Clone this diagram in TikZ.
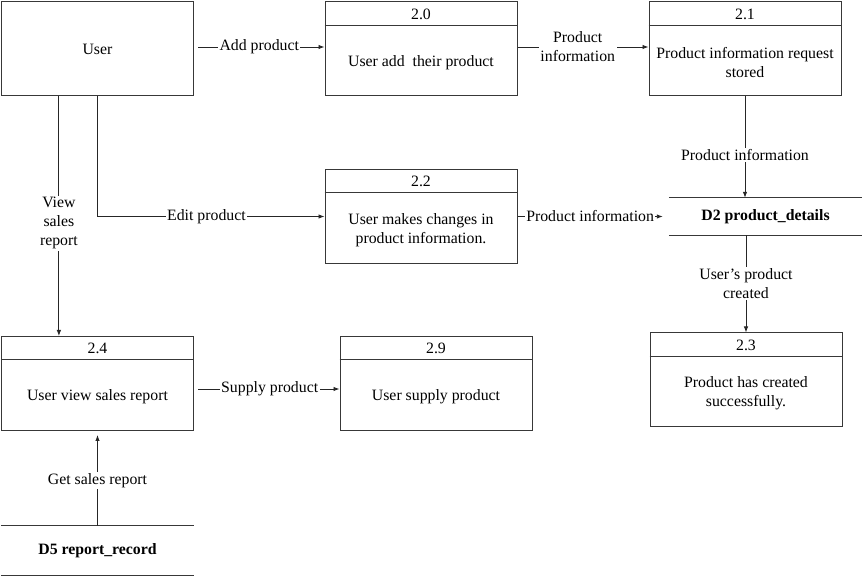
\documentclass[tikz,border=0pt]{standalone}
\usepackage{fontspec}
\setmainfont{Liberation Serif}
\usetikzlibrary{arrows.meta,calc}
\begin{document}
\begin{tikzpicture}[x=1pt,y=-1pt,
  font=\fontsize{15.8}{19}\selectfont,
  box/.style={draw=black!78, line width=1pt, minimum width=192pt, minimum height=94pt, inner sep=0pt},
  store/.style={minimum width=193pt, inner sep=0pt, font=\fontsize{15.8}{19}\selectfont\bfseries},
  sline/.style={draw=black!78, line width=1pt},
  flow/.style={draw=black!85, line width=0.9pt, -{Latex[length=6pt,width=4.5pt]}},
  lbl/.style={fill=white, inner sep=1.5pt, align=center},
  txt/.style={align=center, inner sep=0pt}]
\useasboundingbox (0,0) rectangle (863,577);

% external entity
\node[box] (u) at (97.5,49) {User};

% processes
\node[box] (p20) at (421,49) {};
\node[box] (p21) at (745,49) {};
\node[box] (p22) at (421,216.5) {};
\node[box] (p23) at (746,380) {};
\node[box] (p24) at (97.5,383.5) {};
\node[box] (p29) at (436,383.5) {};

\foreach \p/\num/\body in {p20/2.0/{User add\ \ their product},
                         p21/2.1/{Product information request\\stored},
                         p22/2.2/{User makes changes in\\product information.},
                         p23/2.3/{Product has created\\successfully.},
                         p24/2.4/{User view sales report},
                         p29/2.9/{User supply product}}{
  \draw[sline] ($(\p.north west)+(0,24)$) -- ($(\p.north east)+(0,24)$);
  \node[txt] at ($(\p.north)+(0,12.5)$) {\num};
  \node[txt] at ($(\p.center)+(0,13.5)$) {\body};
}

% data stores
\node[store, minimum height=37pt] (d2) at (765.5,216.5) {D2 product\_details};
\draw[sline] (d2.north west) -- (d2.north east);
\draw[sline] (d2.south west) -- (d2.south east);
\node[store, minimum height=49pt] (d5) at (97.5,550.5) {D5 report\_record};
\draw[sline] (d5.north west) -- (d5.north east);
\draw[sline] (d5.south west) -- (d5.south east);

% flows
\draw[flow, shorten <=4pt] ($(u.east)+(0,-2)$) -- node[lbl] {Add product} ($(p20.west)+(0,-2)$);
\draw[flow] ($(p20.east)+(0,-2)$) -- node[lbl, pos=0.46] {Product\\information} ($(p21.west)+(0,-2)$);
\draw[flow] (p21.south) -- node[lbl, pos=0.58] {Product information} (p21.south |- d2.north);
\draw[flow] (u.south) |- node[lbl, pos=0.74] {Edit product} (p22.west);
\coordinate (uv) at ($(u.south west)!0.3!(u.south east)$);
\draw[flow] (uv) -- node[lbl, pos=0.53] {View\\sales\\report} (uv |- p24.north);
\draw[flow, shorten >=6pt] (p22.east) -- node[lbl, pos=0.48] {Product information} (d2.west);
\draw[flow] (p23.north |- d2.south) -- node[lbl] {User's product\\created} (p23.north);
\draw[flow, shorten <=4pt] ($(p24.east)+(0,5.5)$) -- node[lbl, pos=0.52] {Supply product} ($(p29.west)+(0,5.5)$);
\draw[flow, shorten >=4pt] (d5.north) -- node[lbl, pos=0.48] {Get sales report} (p24.south);
\end{tikzpicture}
\end{document}
